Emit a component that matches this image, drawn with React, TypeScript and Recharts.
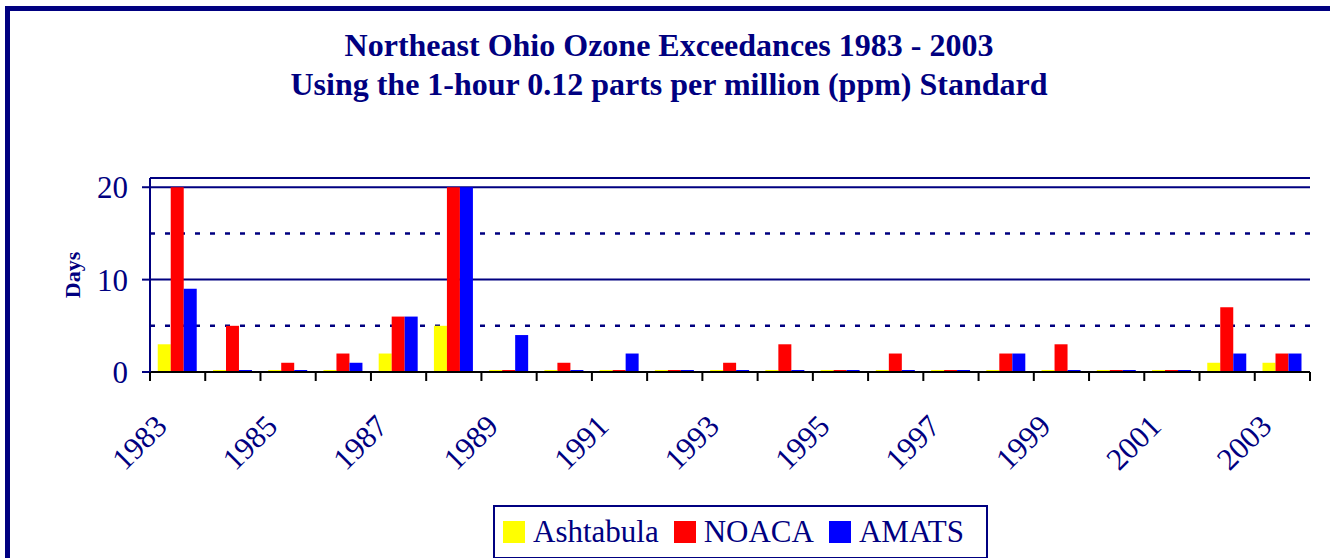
import React from 'react';
import { BarChart, Bar, XAxis, YAxis, ReferenceLine } from 'recharts';

const years = ['1983', '1984', '1985', '1986', '1987', '1988', '1989', '1990', '1991', '1992', '1993', '1994', '1995', '1996', '1997', '1998', '1999', '2000', '2001', '2002', '2003'];
const ashtabula = [3, 0, 0, 0, 2, 5, 0, 0, 0, 0, 0, 0, 0, 0, 0, 0, 0, 0, 0, 1, 1];
const noaca = [20, 5, 1, 2, 6, 20, 0, 1, 0, 0, 1, 3, 0, 2, 0, 2, 3, 0, 0, 7, 2];
const amats = [9, 0, 0, 1, 6, 20, 4, 0, 2, 0, 0, 0, 0, 0, 0, 2, 0, 0, 0, 2, 2];

const seriesKeys = ['ashtabula', 'noaca', 'amats'];
const seriesNames = ['Ashtabula', 'NOACA', 'AMATS'];
const seriesColors = ['#FFFF00', '#FF0000', '#0000FF'];

const yTicks = [0, 10, 20];
const solidGrid = [10, 20];
const dottedGrid = [5, 15];

const NAVY = '#000080';
const FONT = '"Liberation Serif", "Times New Roman", serif';

const data = years.map((year, i) => ({
  year,
  ashtabula: ashtabula[i],
  noaca: noaca[i],
  amats: amats[i],
}));

// tick marks sit on category boundaries, labels on every other year
const YearTick = (props: any) => {
  const { x, y, payload, index } = props;
  const half = payload && payload.offset ? payload.offset : 27.6;
  const axisY = y - 9;
  const lx = x - 9;
  const ly = axisY + 56;
  return (
    <g>
      <line x1={x - half} x2={x - half} y1={axisY} y2={axisY + 9} stroke="#000" strokeWidth={2} />
      {index === years.length - 1 && (
        <line x1={x + half} x2={x + half} y1={axisY} y2={axisY + 9} stroke="#000" strokeWidth={2} />
      )}
      {index % 2 === 0 && (
        <text
          x={lx}
          y={ly}
          transform={`rotate(-45, ${lx}, ${ly})`}
          textAnchor="end"
          fill={NAVY}
          fontSize={31}
          fontFamily={FONT}
        >
          {payload.value}
        </text>
      )}
    </g>
  );
};

export default function App() {
  return (
    <div style={{ position: 'fixed', left: 0, top: 0, width: 1330, height: 558, overflow: 'hidden', background: '#fff', fontFamily: FONT }}>
      {/* outer frame */}
      <div style={{ position: 'absolute', left: 5, top: 6, width: 1330, height: 600, border: `5px solid ${NAVY}`, boxSizing: 'border-box' }} />

      <div style={{ position: 'absolute', left: 8, top: 26, width: 1322, textAlign: 'center', color: NAVY, fontWeight: 'bold', fontSize: 32, lineHeight: '39px' }}>
        <div>Northeast Ohio Ozone Exceedances 1983 - 2003</div>
        <div>Using the 1-hour 0.12 parts per million (ppm) Standard</div>
      </div>

      <div style={{ position: 'absolute', left: 0, top: 0 }}>
        <BarChart
          width={1330}
          height={558}
          data={data}
          margin={{ top: 178, right: 20, bottom: 0, left: 0 }}
          barCategoryGap="14%"
          barGap={0}
        >
          {dottedGrid.map(v => (
            <ReferenceLine key={'d' + v} y={v} stroke={NAVY} strokeWidth={2.5} strokeDasharray="5 10" zIndex={-50} />
          ))}
          {solidGrid.map(v => (
            <ReferenceLine key={'s' + v} y={v} stroke={NAVY} strokeWidth={2} zIndex={-50} />
          ))}
          <ReferenceLine y={21} stroke={NAVY} strokeWidth={2} />
          <XAxis
            dataKey="year"
            height={186}
            interval={0}
            tickSize={9}
            tickMargin={0}
            tickLine={false}
            axisLine={{ stroke: '#000', strokeWidth: 2 }}
            tick={<YearTick />}
          />
          <YAxis
            width={150}
            domain={[0, 21]}
            ticks={yTicks}
            tickSize={8}
            tickMargin={14}
            axisLine={{ stroke: NAVY, strokeWidth: 2 }}
            tickLine={{ stroke: NAVY, strokeWidth: 2 }}
            tick={{ fill: NAVY, fontSize: 31, fontFamily: FONT }}
            label={{ value: 'Days', angle: -90, position: 'insideLeft', offset: 72, style: { textAnchor: 'middle', fill: NAVY, fontSize: 22, fontWeight: 'bold', fontFamily: FONT } }}
          />
          <YAxis
            yAxisId="r"
            orientation="right"
            width={0}
            domain={[0, 21]}
            tick={false}
            tickLine={false}
            axisLine={{ stroke: NAVY, strokeWidth: 2 }}
          />
          {seriesKeys.map((k, i) => (
            <Bar key={k} dataKey={k} name={seriesNames[i]} fill={seriesColors[i]} minPointSize={2} isAnimationActive={false} />
          ))}
        </BarChart>
      </div>

      {/* legend */}
      <div style={{ position: 'absolute', left: 493, top: 505, width: 495, height: 54, border: `2px solid ${NAVY}`, boxSizing: 'border-box', display: 'flex', alignItems: 'center', paddingLeft: 8, color: NAVY, fontSize: 31 }}>
        {seriesNames.map((n, i) => (
          <div key={n} style={{ display: 'flex', alignItems: 'center', marginRight: 15 }}>
            <span style={{ display: 'inline-block', width: 22, height: 22, background: seriesColors[i], marginRight: 8 }} />
            <span>{n}</span>
          </div>
        ))}
      </div>
    </div>
  );
}
